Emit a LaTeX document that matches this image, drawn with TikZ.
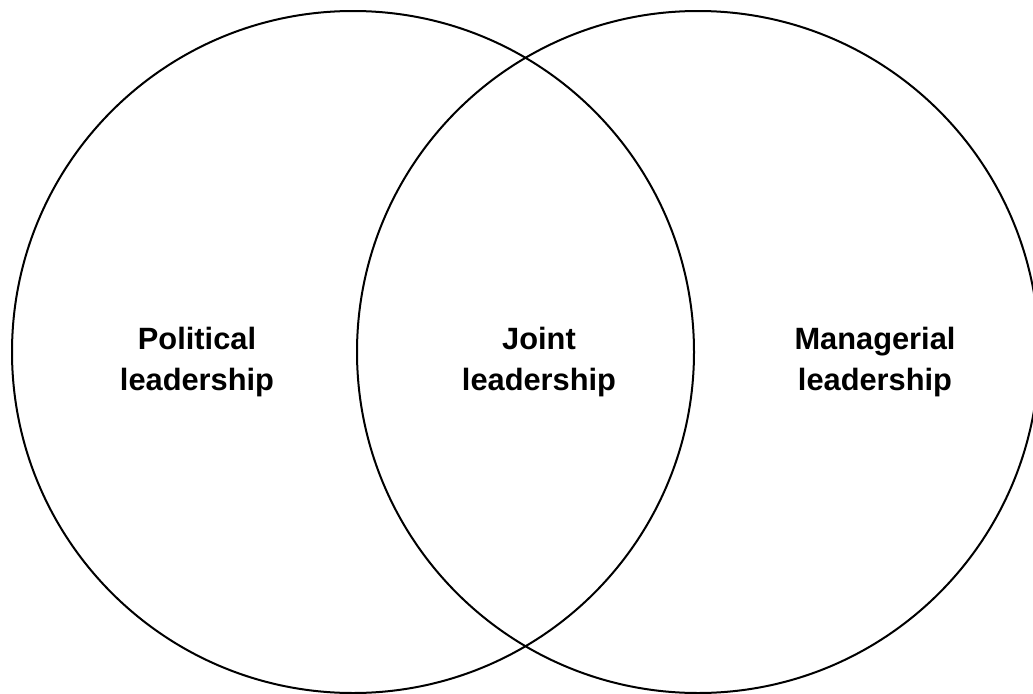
\documentclass[tikz,border=0pt]{standalone}
\usepackage{fontspec}
\setmainfont{Liberation Sans}
\usepackage{tikz}

\begin{document}
\begin{tikzpicture}[
  x=0.5pt, y=0.5pt,
  ring/.style={draw=black, line width=1pt},
  lbl/.style={align=center, font=\fontsize{15.4pt}{20.5pt}\selectfont\bfseries}
]
\useasboundingbox (0,0) rectangle (1033,693);

% the two overlapping sets
\draw[ring] (353,341) circle[radius=341];
\draw[ring] (698,341) circle[radius=341];

\node[lbl] (political) at (197,331) {Political\\leadership};
\node[lbl] (joint) at (539,331) {Joint\\leadership};
\node[lbl] (managerial) at (875,331) {Managerial\\leadership};
\end{tikzpicture}
\end{document}
